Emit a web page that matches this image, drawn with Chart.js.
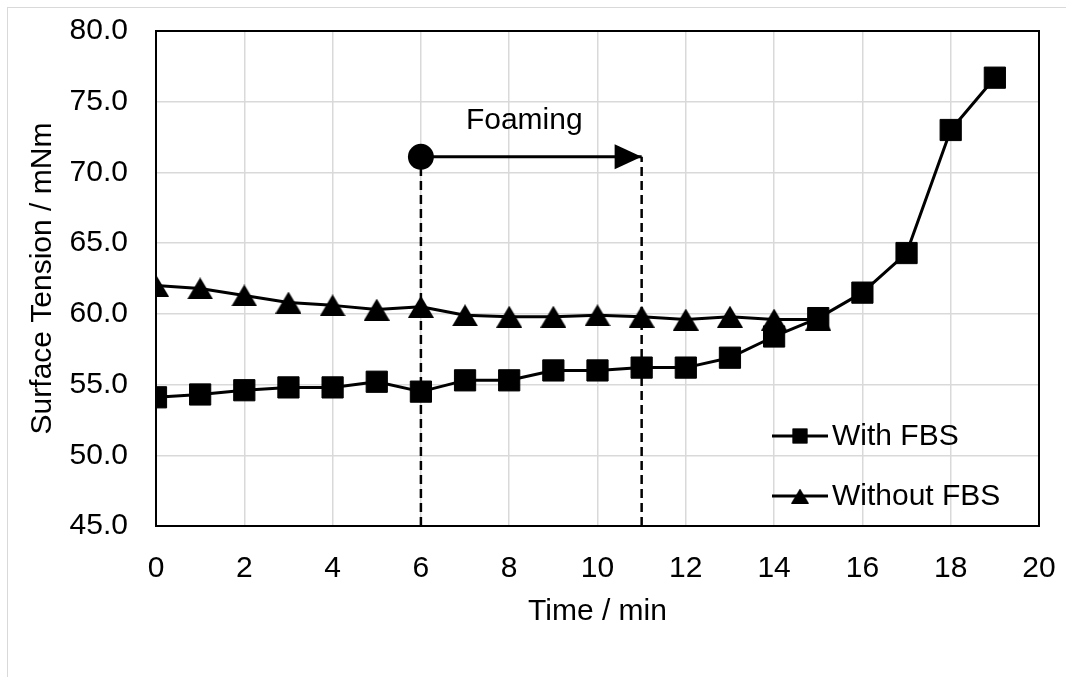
<!DOCTYPE html>
<html>
<head>
<meta charset="utf-8">
<script src="https://cdn.jsdelivr.net/npm/chart.js"></script>
<style>
  html, body { margin: 0; padding: 0; background: #fff; overflow: hidden; }
  #frame { position: absolute; left: 7px; top: 7px; width: 2000px; height: 2000px; border: 1px solid #d9d9d9; }
  #chart { position: absolute; left: 0; top: 0; }
</style>
</head>
<body>
<div id="frame"></div>
<canvas id="chart" width="1066" height="677"></canvas>
<script>
// ---------- data ----------
const minutesWith = [0, 1, 2, 3, 4, 5, 6, 7, 8, 9, 10, 11, 12, 13, 14, 15, 16, 17, 18, 19];
const withFbs = [54.1, 54.3, 54.6, 54.8, 54.8, 55.2, 54.5, 55.3, 55.3, 56.0, 56.0, 56.2, 56.2, 56.9, 58.4, 59.7, 61.5, 64.3, 73.0, 76.7];
const minutesWithout = [0, 1, 2, 3, 4, 5, 6, 7, 8, 9, 10, 11, 12, 13, 14, 15];
const withoutFbs = [62.0, 61.8, 61.3, 60.8, 60.6, 60.3, 60.5, 59.9, 59.8, 59.8, 59.9, 59.8, 59.6, 59.8, 59.6, 59.6];
const seriesNames = ['With FBS', 'Without FBS'];

// foaming window annotation
const foamStart = 6;
const foamEnd = 11;
const foamLevel = 71.1;
const foamLabel = 'Foaming';

// axes
const xMin = 0, xMax = 20, xStep = 2;
const yMin = 45, yMax = 80, yStep = 5;
const xTitle = 'Time / min';
const yTitle = 'Surface Tension / mNm';

const FONT = "'Liberation Sans', Arial, sans-serif";
const FS = 30;

const pts = (xs, ys) => xs.map((x, i) => ({ x, y: ys[i] }));

// triangle marker centred on its box (like the office charts do)
function triangleImg(w, h) {
  const c = document.createElement('canvas');
  c.width = w; c.height = h;
  const g = c.getContext('2d');
  g.fillStyle = '#000';
  g.beginPath();
  g.moveTo(w / 2, 0);
  g.lineTo(w, h);
  g.lineTo(0, h);
  g.closePath();
  g.fill();
  return c;
}
const triBig = triangleImg(26, 22);
const triSmall = triangleImg(18, 15);

// ---------- plugins ----------
const framePlugin = {
  id: 'frame',
  afterDatasetsDraw(chart) {
    const { ctx, chartArea: a } = chart;
    ctx.save();
    ctx.strokeStyle = '#000';
    ctx.lineWidth = 2;
    ctx.strokeRect(a.left, a.top, a.right - a.left, a.bottom - a.top);
    ctx.restore();
  }
};

const foamPlugin = {
  id: 'foam',
  afterDatasetsDraw(chart) {
    const { ctx, scales: { x, y } } = chart;
    const tipX = x.getPixelForValue(foamEnd);
    const py = y.getPixelForValue(foamLevel);
    ctx.save();
    ctx.fillStyle = '#000';
    ctx.beginPath();
    ctx.moveTo(tipX, py);
    ctx.lineTo(tipX - 27, py - 12.5);
    ctx.lineTo(tipX - 27, py + 12.5);
    ctx.closePath();
    ctx.fill();
    ctx.font = FS + 'px ' + FONT;
    ctx.textAlign = 'center';
    ctx.textBaseline = 'middle';
    const midX = (x.getPixelForValue(foamStart) + tipX) / 2;
    ctx.fillText(foamLabel, midX - 7, py - 36);
    ctx.restore();
  }
};

const legendPlugin = {
  id: 'insideLegend',
  afterDraw(chart) {
    const { ctx, chartArea: a } = chart;
    const rows = [
      { name: seriesNames[0], style: 'rect', r: 10.5, y: a.bottom - 90 },
      { name: seriesNames[1], style: triSmall, r: 10, y: a.bottom - 30 }
    ];
    const x0 = a.right - 267, x1 = a.right - 211;
    ctx.save();
    rows.forEach(r => {
      ctx.strokeStyle = '#000';
      ctx.lineWidth = 3;
      ctx.beginPath();
      ctx.moveTo(x0, r.y);
      ctx.lineTo(x1, r.y);
      ctx.stroke();
      ctx.fillStyle = '#000';
      Chart.helpers.drawPoint(ctx, { pointStyle: r.style, radius: r.r, borderWidth: 0 }, (x0 + x1) / 2, r.y);
      ctx.fill();
      ctx.font = FS + 'px ' + FONT;
      ctx.textAlign = 'left';
      ctx.textBaseline = 'middle';
      ctx.fillText(r.name, x1 + 4, r.y + 1);
    });
    ctx.restore();
  }
};

// ---------- chart ----------
const ctx = document.getElementById('chart').getContext('2d');
new Chart(ctx, {
  type: 'line',
  data: {
    datasets: [
      {
        label: seriesNames[0],
        data: pts(minutesWith, withFbs),
        borderColor: '#000', backgroundColor: '#000',
        borderWidth: 3, pointStyle: 'rect', pointRadius: 15,
        pointBorderWidth: 1, pointBorderColor: '#000', tension: 0
      },
      {
        label: seriesNames[1],
        data: pts(minutesWithout, withoutFbs),
        borderColor: '#000', backgroundColor: '#000',
        borderWidth: 3, pointStyle: triBig, pointRadius: 13, tension: 0
      },
      {
        label: 'foam arrow',
        data: [{ x: foamStart, y: foamLevel }, { x: foamEnd, y: foamLevel }],
        borderColor: '#000', backgroundColor: '#000',
        borderWidth: 3, pointStyle: 'circle', pointRadius: [13, 0], pointBorderWidth: 0
      },
      {
        label: 'foam start',
        data: [{ x: foamStart, y: yMin }, { x: foamStart, y: foamLevel }],
        borderColor: '#000', borderWidth: 2.5, borderDash: [9, 5], pointRadius: 0
      },
      {
        label: 'foam end',
        data: [{ x: foamEnd, y: yMin }, { x: foamEnd, y: foamLevel }],
        borderColor: '#000', borderWidth: 2.5, borderDash: [9, 5], pointRadius: 0
      }
    ]
  },
  options: {
    responsive: false,
    animation: false,
    devicePixelRatio: 1,
    layout: { padding: { top: 31, right: 27, left: 0, bottom: 0 } },
    plugins: { legend: { display: false }, tooltip: { enabled: false } },
    elements: { line: { borderJoinStyle: 'round' } },
    scales: {
      x: {
        type: 'linear', min: xMin, max: xMax,
        ticks: { stepSize: xStep, color: '#000', padding: 25, font: { family: FONT, size: FS } },
        grid: { color: '#d9d9d9', lineWidth: 1.5, drawTicks: false },
        border: { color: '#000', width: 2 },
        title: { display: true, text: xTitle, color: '#000', font: { family: FONT, size: FS }, padding: { top: 0, bottom: 47 } },
        afterFit(s) { s.height = 151; s.paddingLeft = 0; s.paddingRight = 0; }
      },
      y: {
        type: 'linear', min: yMin, max: yMax,
        ticks: { stepSize: yStep, color: '#000', padding: 28, font: { family: FONT, size: FS }, callback: v => v.toFixed(1) },
        grid: { color: '#d9d9d9', lineWidth: 1.5, drawTicks: false },
        border: { color: '#000', width: 2 },
        title: { display: true, text: yTitle, color: '#000', font: { family: FONT, size: FS }, padding: { top: 25, bottom: 0 } },
        afterFit(s) { s.width = 156; s.paddingTop = 0; s.paddingBottom = 0; }
      }
    }
  },
  plugins: [framePlugin, foamPlugin, legendPlugin]
});
</script>
</body>
</html>
